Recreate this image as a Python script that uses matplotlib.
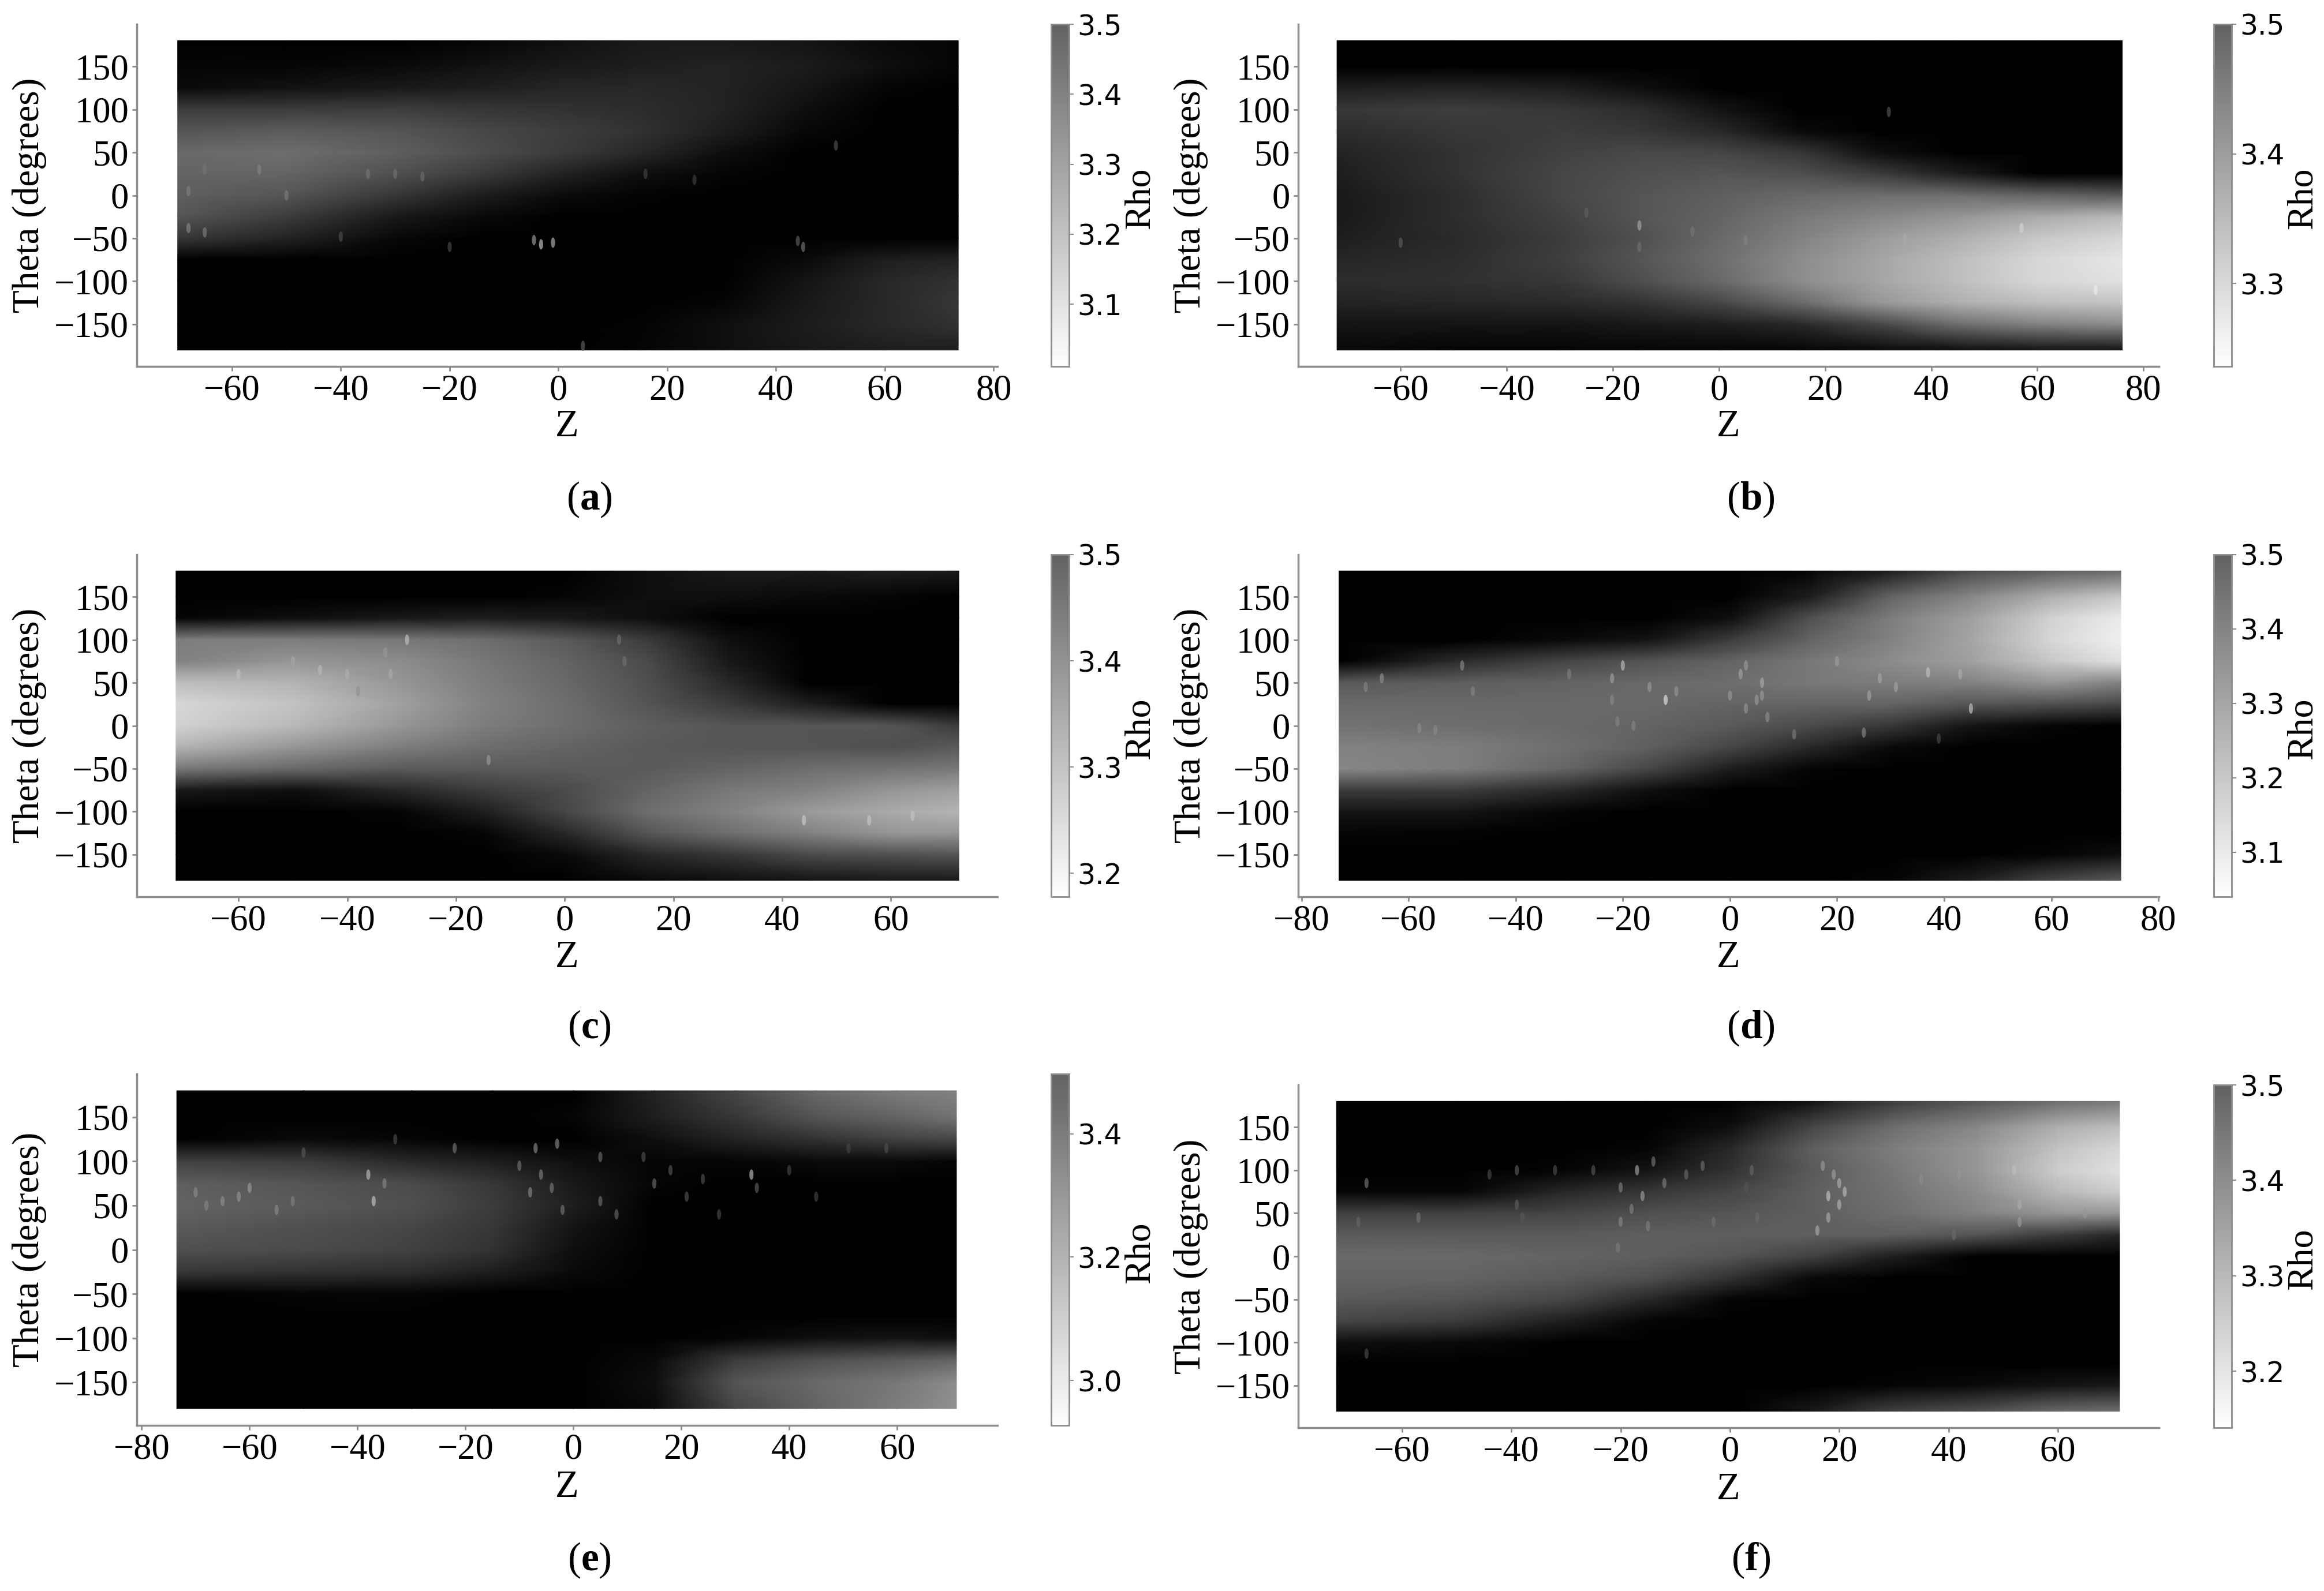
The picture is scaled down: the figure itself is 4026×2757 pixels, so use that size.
import matplotlib
matplotlib.use('Agg')
import matplotlib.pyplot as plt
import numpy as np
from matplotlib.cm import ScalarMappable
from matplotlib.colors import LinearSegmentedColormap, Normalize
from matplotlib.path import Path

plt.rcParams['font.family'] = 'Liberation Serif'
plt.rcParams['mathtext.fontset'] = 'custom'
plt.rcParams['mathtext.rm'] = 'Liberation Serif'
plt.rcParams['mathtext.bf'] = 'Liberation Serif:bold'

W, H = 4026, 2757
GRID_COLOR = '#8c8c8c'

# brightness of the map, 0 = black, 255 = white
theta_rows = [180, 150, 125, 100, 75, 50, 25, 0, -25, -50, -75, -100, -125, -150, -180]

z_a = [-70, -50, -30, -15, 0, 15, 30, 45, 60, 73.5]
gray_a = [
    [0, 0, 0, 5, 15, 25, 25, 20, 10, 5],
    [5, 5, 10, 18, 25, 30, 35, 28, 15, 5],
    [10, 18, 25, 30, 38, 40, 35, 22, 5, 0],
    [60, 60, 62, 55, 50, 45, 35, 15, 0, 0],
    [85, 92, 85, 72, 62, 50, 30, 8, 0, 0],
    [105, 110, 95, 78, 60, 40, 15, 0, 0, 0],
    [100, 100, 80, 60, 35, 15, 5, 0, 0, 0],
    [95, 85, 55, 30, 12, 3, 0, 0, 0, 0],
    [85, 60, 25, 10, 0, 0, 0, 0, 0, 0],
    [55, 35, 8, 0, 0, 0, 0, 0, 0, 0],
    [0, 0, 0, 0, 0, 0, 0, 10, 30, 35],
    [0, 0, 0, 0, 0, 0, 0, 20, 40, 50],
    [0, 0, 0, 0, 0, 0, 5, 25, 40, 55],
    [0, 0, 0, 0, 0, 3, 15, 28, 40, 50],
    [0, 0, 0, 0, 0, 5, 15, 25, 30, 30],
]
z_b = [-72, -50, -30, -15, 0, 15, 30, 45, 60, 76]
gray_b = [
    [0, 0, 0, 0, 0, 0, 0, 0, 0, 0],
    [0, 0, 0, 0, 0, 0, 0, 0, 0, 0],
    [30, 35, 30, 15, 0, 0, 0, 0, 0, 0],
    [55, 62, 55, 45, 20, 0, 0, 0, 0, 0],
    [45, 55, 60, 55, 40, 10, 0, 0, 0, 0],
    [35, 50, 65, 72, 70, 55, 15, 0, 0, 0],
    [30, 50, 70, 80, 85, 80, 60, 30, 0, 0],
    [25, 45, 70, 85, 95, 105, 110, 110, 100, 90],
    [25, 45, 65, 85, 100, 120, 135, 150, 170, 185],
    [30, 42, 60, 80, 105, 130, 155, 175, 200, 215],
    [38, 45, 62, 85, 110, 140, 165, 190, 215, 230],
    [45, 48, 55, 78, 105, 140, 165, 190, 215, 225],
    [35, 38, 42, 50, 70, 105, 150, 175, 190, 195],
    [20, 20, 20, 25, 30, 40, 70, 110, 130, 140],
    [10, 5, 5, 5, 5, 5, 10, 15, 20, 20],
]
z_c = [-71.5, -50, -30, -15, 0, 15, 30, 45, 60, 72.5]
gray_c = [
    [0, 0, 0, 0, 0, 15, 25, 25, 30, 25],
    [0, 0, 0, 0, 5, 15, 15, 10, 5, 0],
    [5, 15, 25, 30, 25, 15, 0, 0, 0, 0],
    [125, 125, 120, 110, 90, 60, 15, 0, 0, 0],
    [130, 150, 140, 120, 100, 75, 25, 0, 0, 0],
    [190, 180, 150, 125, 105, 80, 40, 0, 0, 0],
    [215, 195, 160, 130, 110, 85, 60, 30, 0, 0],
    [210, 185, 150, 125, 110, 95, 85, 85, 85, 60],
    [180, 150, 125, 110, 100, 90, 85, 85, 80, 90],
    [120, 105, 90, 90, 90, 90, 100, 110, 115, 120],
    [25, 15, 40, 60, 75, 100, 120, 130, 150, 160],
    [0, 0, 5, 30, 70, 110, 130, 155, 170, 180],
    [0, 0, 0, 5, 40, 85, 110, 130, 150, 150],
    [0, 0, 0, 0, 10, 40, 55, 75, 80, 85],
    [0, 0, 0, 0, 0, 10, 15, 20, 25, 25],
]
z_d = [-73, -50, -30, -15, 0, 15, 30, 45, 60, 73]
gray_d = [
    [0, 0, 0, 0, 0, 5, 30, 75, 95, 105],
    [0, 0, 0, 0, 0, 30, 100, 135, 175, 200],
    [0, 0, 0, 0, 15, 80, 125, 160, 210, 235],
    [0, 0, 10, 20, 60, 100, 130, 165, 215, 240],
    [0, 45, 70, 85, 100, 120, 140, 160, 200, 225],
    [90, 95, 100, 105, 110, 120, 125, 130, 150, 130],
    [105, 105, 105, 105, 100, 100, 100, 85, 80, 70],
    [115, 110, 105, 100, 90, 75, 55, 20, 5, 0],
    [130, 125, 110, 95, 70, 40, 10, 0, 0, 0],
    [135, 125, 100, 70, 30, 5, 0, 0, 0, 0],
    [60, 60, 40, 15, 0, 0, 0, 0, 0, 0],
    [20, 20, 5, 0, 0, 0, 0, 0, 0, 0],
    [5, 3, 0, 0, 0, 0, 0, 0, 0, 0],
    [0, 0, 0, 0, 0, 0, 0, 0, 5, 15],
    [0, 0, 0, 0, 0, 0, 5, 30, 70, 90],
]
z_e = [-73.5, -50, -30, -15, 0, 15, 30, 45, 60, 71]
gray_e = [
    [0, 0, 0, 0, 0, 35, 70, 105, 125, 130],
    [0, 0, 0, 0, 5, 30, 55, 85, 100, 115],
    [0, 10, 5, 0, 0, 15, 35, 50, 65, 70],
    [65, 60, 40, 30, 15, 5, 5, 10, 10, 5],
    [95, 85, 75, 55, 25, 5, 0, 0, 0, 0],
    [100, 90, 80, 60, 30, 0, 0, 0, 0, 0],
    [90, 80, 70, 55, 20, 0, 0, 0, 0, 0],
    [80, 75, 65, 50, 15, 0, 0, 0, 0, 0],
    [55, 50, 45, 30, 10, 0, 0, 0, 0, 0],
    [0, 5, 5, 0, 0, 0, 0, 0, 0, 0],
    [0, 0, 0, 0, 0, 0, 0, 0, 0, 0],
    [0, 0, 0, 0, 0, 0, 5, 15, 20, 15],
    [0, 0, 0, 0, 0, 10, 60, 80, 90, 100],
    [0, 0, 0, 0, 0, 15, 85, 105, 120, 140],
    [0, 0, 0, 0, 0, 10, 70, 100, 125, 145],
]
z_f = [-72, -50, -30, -15, 0, 15, 30, 45, 60, 71.3]
gray_f = [
    [0, 0, 0, 0, 0, 20, 60, 85, 110, 120],
    [0, 0, 0, 0, 15, 70, 110, 135, 175, 190],
    [0, 0, 0, 5, 40, 95, 125, 150, 195, 215],
    [0, 0, 5, 20, 50, 90, 120, 150, 205, 225],
    [5, 5, 40, 55, 70, 95, 115, 140, 185, 205],
    [65, 65, 70, 80, 85, 95, 110, 130, 150, 150],
    [90, 90, 90, 95, 95, 95, 95, 85, 60, 40],
    [105, 105, 100, 95, 85, 65, 30, 0, 0, 0],
    [100, 100, 90, 80, 50, 10, 0, 0, 0, 0],
    [90, 85, 70, 40, 5, 0, 0, 0, 0, 0],
    [70, 60, 30, 5, 0, 0, 0, 0, 0, 0],
    [15, 10, 0, 0, 0, 0, 0, 0, 0, 0],
    [0, 0, 0, 0, 0, 0, 0, 0, 0, 0],
    [0, 0, 0, 0, 0, 0, 5, 10, 20, 25],
    [0, 0, 0, 0, 0, 25, 65, 80, 105, 110],
]

# bright specks: z, theta, brightness
spots_a = [(-3.2, -57, 190), (-1, -55, 170), (-4.5, -52, 150), (45, -60, 110), (44, -53, 90),
           (51, 58, 75), (4.5, -175, 90), (-20, -60, 70), (-40, -48, 75), (-68, -38, 130),
           (-65, -43, 120), (-55, 30, 130), (-65, 30, 115), (-30, 25, 110), (-35, 25, 115),
           (-25, 22, 105), (16, 25, 65), (25, 18, 60), (-50, 0, 120), (-68, 5, 125)]
spots_b = [(-15, -35, 160), (-15, -60, 110), (-5, -42, 115), (5, -52, 130), (35, -50, 170),
           (-52, -40, 45), (-60, -55, 90), (57, -38, 210), (71, -110, 235), (32, 97, 80),
           (-25, -20, 95)]
spots_c = [(-29, 100, 190), (-32, 60, 170), (-45, 65, 185), (-40, 60, 175), (10, 100, 110),
           (-60, 90, 130), (-14, -40, 150), (44, -110, 200), (-38, 40, 145), (-60, 60, 190),
           (-50, 75, 165), (-33, 85, 150), (11, 75, 110), (56, -110, 195), (64, -105, 195)]
spots_d = [(-12, 30, 220), (-20, 70, 180), (45, 20, 190), (37, 62, 190), (2, 60, 160),
           (6, 50, 165), (0, 35, 150), (26, 35, 160), (31, 45, 160), (-22, 55, 155),
           (-15, 45, 150), (-65, 55, 140), (-50, 70, 130), (-58, -3, 140), (-55, -5, 135),
           (12, -10, 120), (25, -8, 130), (5, 30, 150), (-10, 40, 145), (39, -15, 70),
           (-68, 45, 130), (-48, 40, 130), (-21, 5, 130), (-18, 0, 130), (-22, 30, 135),
           (7, 10, 140), (3, 20, 145), (6, 35, 150), (3, 70, 150), (28, 55, 165),
           (43, 60, 170), (20, 75, 155), (-30, 60, 125)]
spots_e = [(-38, 85, 180), (-37, 55, 190), (33, 85, 175), (-7, 115, 130), (-3, 120, 125),
           (-22, 115, 110), (-8, 65, 130), (-6, 85, 120), (-60, 70, 150), (-55, 45, 135),
           (-65, 55, 140), (-50, 110, 85), (21, 60, 75), (27, 40, 70), (15, 75, 100),
           (13, 105, 75), (5, 105, 100), (-2, 45, 110), (45, 60, 65), (58, 115, 75),
           (40, 90, 65), (-33, 125, 70), (-70, 65, 135), (-68, 50, 130), (-62, 60, 145),
           (-52, 55, 125), (-35, 75, 130), (-4, 70, 115), (5, 55, 105), (8, 40, 95),
           (18, 90, 80), (24, 80, 75), (34, 70, 90), (-10, 95, 110), (51, 115, 65)]
spots_f = [(-66.5, 85, 110), (-66.5, -113, 70), (-20.5, 10, 120), (18, 70, 190), (20, 60, 175),
           (16, 30, 165), (20, 85, 170), (19, 95, 155), (17, 105, 150), (-17, 100, 155),
           (-20, 40, 130), (-15, 35, 125), (-16, 70, 150), (-57, 45, 115), (-68, 40, 100),
           (-39, 60, 90), (52, 100, 190), (53, 60, 170), (57, 100, 190), (4, 100, 100),
           (3, 80, 85), (41, 25, 105), (-39, 100, 85), (-8, 95, 100), (-38, 45, 85),
           (-25, 100, 80), (60, 85, 190), (-20, 80, 120), (-18, 55, 125), (-14, 110, 110),
           (-12, 85, 120), (-5, 105, 105), (-3, 40, 110), (5, 45, 105), (18, 45, 165),
           (21, 75, 180), (35, 90, 140), (42, 95, 150), (53, 40, 150), (65, 50, 150),
           (66, 105, 210), (-44, 95, 70), (-32, 100, 70)]

theta_ticks = [-150, -100, -50, 0, 50, 100, 150]
z_ticks_a = [-60, -40, -20, 0, 20, 40, 60, 80]
z_ticks_c = [-60, -40, -20, 0, 20, 40, 60]
z_ticks_d = [-80, -60, -40, -20, 0, 20, 40, 60, 80]
z_ticks_e = [-80, -60, -40, -20, 0, 20, 40, 60]

rho_range_a = (3.011, 3.5)
rho_range_b = (3.236, 3.5)
rho_range_c = (3.178, 3.5)
rho_range_d = (3.04, 3.5)
rho_range_e = (2.927, 3.497)
rho_range_f = (3.141, 3.5)
rho_ticks_a = [3.1, 3.2, 3.3, 3.4, 3.5]
rho_ticks_b = [3.3, 3.4, 3.5]
rho_ticks_c = [3.2, 3.3, 3.4, 3.5]
rho_ticks_e = [3.0, 3.2, 3.4]
rho_ticks_f = [3.2, 3.3, 3.4, 3.5]

# vertical oval for the specks
t = np.linspace(0, 2 * np.pi, 25)
speck = Path(np.column_stack([0.4 * np.cos(t), np.sin(t)]))

bar_cmap = LinearSegmentedColormap.from_list('rho', ['#fefefe', '#b0b0b0', '#626262'])


def add_axes_px(left, top, right, bottom):
    return fig.add_axes([left / W, 1 - bottom / H, (right - left) / W, (bottom - top) / H])


def text_px(x, y, s, **kw):
    fig.text(x / W, 1 - y / H, s, ha='center', va='center', **kw)


def draw_panel(name, zs, gray, spots, xlim, z_ticks, rho_range, rho_ticks,
               left, right, top, bottom, bar_left, z_y, tag_y):
    ax = add_axes_px(left, top, right, bottom)
    ax.pcolormesh(zs, theta_rows, np.array(gray), cmap='gray', vmin=0, vmax=255,
                  shading='gouraud')
    sx, sy, sc = zip(*spots)
    ax.scatter(sx, sy, c=sc, cmap='gray', vmin=0, vmax=255, s=170, marker=speck,
               linewidths=0, alpha=0.7)
    ax.set_xlim(xlim)
    ax.set_ylim(-199, 199)
    ax.set_xticks(z_ticks)
    ax.set_yticks(theta_ticks)
    ax.tick_params(labelsize=45, length=6, width=2, color=GRID_COLOR, pad=4)
    for side in ['top', 'right']:
        ax.spines[side].set_visible(False)
    for side in ['left', 'bottom']:
        ax.spines[side].set_color(GRID_COLOR)
        ax.spines[side].set_linewidth(2.5)

    cax = add_axes_px(bar_left, top, bar_left + 31, bottom)
    norm = Normalize(*rho_range)
    cb = fig.colorbar(ScalarMappable(norm=norm, cmap=bar_cmap), cax=cax, ticks=rho_ticks)
    cb.outline.set_edgecolor(GRID_COLOR)
    cb.outline.set_linewidth(2)
    cb.ax.tick_params(length=6, width=1.5, color=GRID_COLOR, pad=4)
    cb.ax.set_yticklabels(['%.1f' % v for v in rho_ticks], fontsize=35, family='DejaVu Sans')

    mid_y = (top + bottom) / 2
    text_px(left - 186, mid_y, 'Theta (degrees)', fontsize=47, rotation=90)
    text_px(bar_left + 155, mid_y + 5, 'Rho', fontsize=46, rotation=90)
    text_px((left + right) / 2, z_y, 'Z', fontsize=48)
    text_px(left + 784, tag_y, r'($\mathbf{%s}$)' % name, fontsize=50)


fig = plt.figure(figsize=(W / 100, H / 100), dpi=100, facecolor='white')

draw_panel('a', z_a, gray_a, spots_a, (-77.5, 80.7), z_ticks_a, rho_range_a, rho_ticks_a,
           237, 1728, 42, 635, 1821, 740, 866)
draw_panel('b', z_b, gray_b, spots_b, (-79.3, 82.9), z_ticks_a, rho_range_b, rho_ticks_b,
           2249, 3740, 42, 635, 3835, 740, 866)
draw_panel('c', z_c, gray_c, spots_c, (-78.7, 79.6), z_ticks_c, rho_range_c, rho_ticks_c,
           237, 1728, 961, 1554, 1821, 1659, 1782)
draw_panel('d', z_d, gray_d, spots_d, (-80.6, 80.1), z_ticks_d, rho_range_d, rho_ticks_a,
           2249, 3740, 961, 1554, 3835, 1659, 1782)
draw_panel('e', z_e, gray_e, spots_e, (-80.9, 78.6), z_ticks_e, rho_range_e, rho_ticks_e,
           237, 1728, 1861, 2470, 1821, 2577, 2704)
draw_panel('f', z_f, gray_f, spots_f, (-79, 78.5), z_ticks_c, rho_range_f, rho_ticks_f,
           2249, 3740, 1880, 2474, 3835, 2582, 2704)

fig.savefig('out.png', dpi=100, facecolor='white')
